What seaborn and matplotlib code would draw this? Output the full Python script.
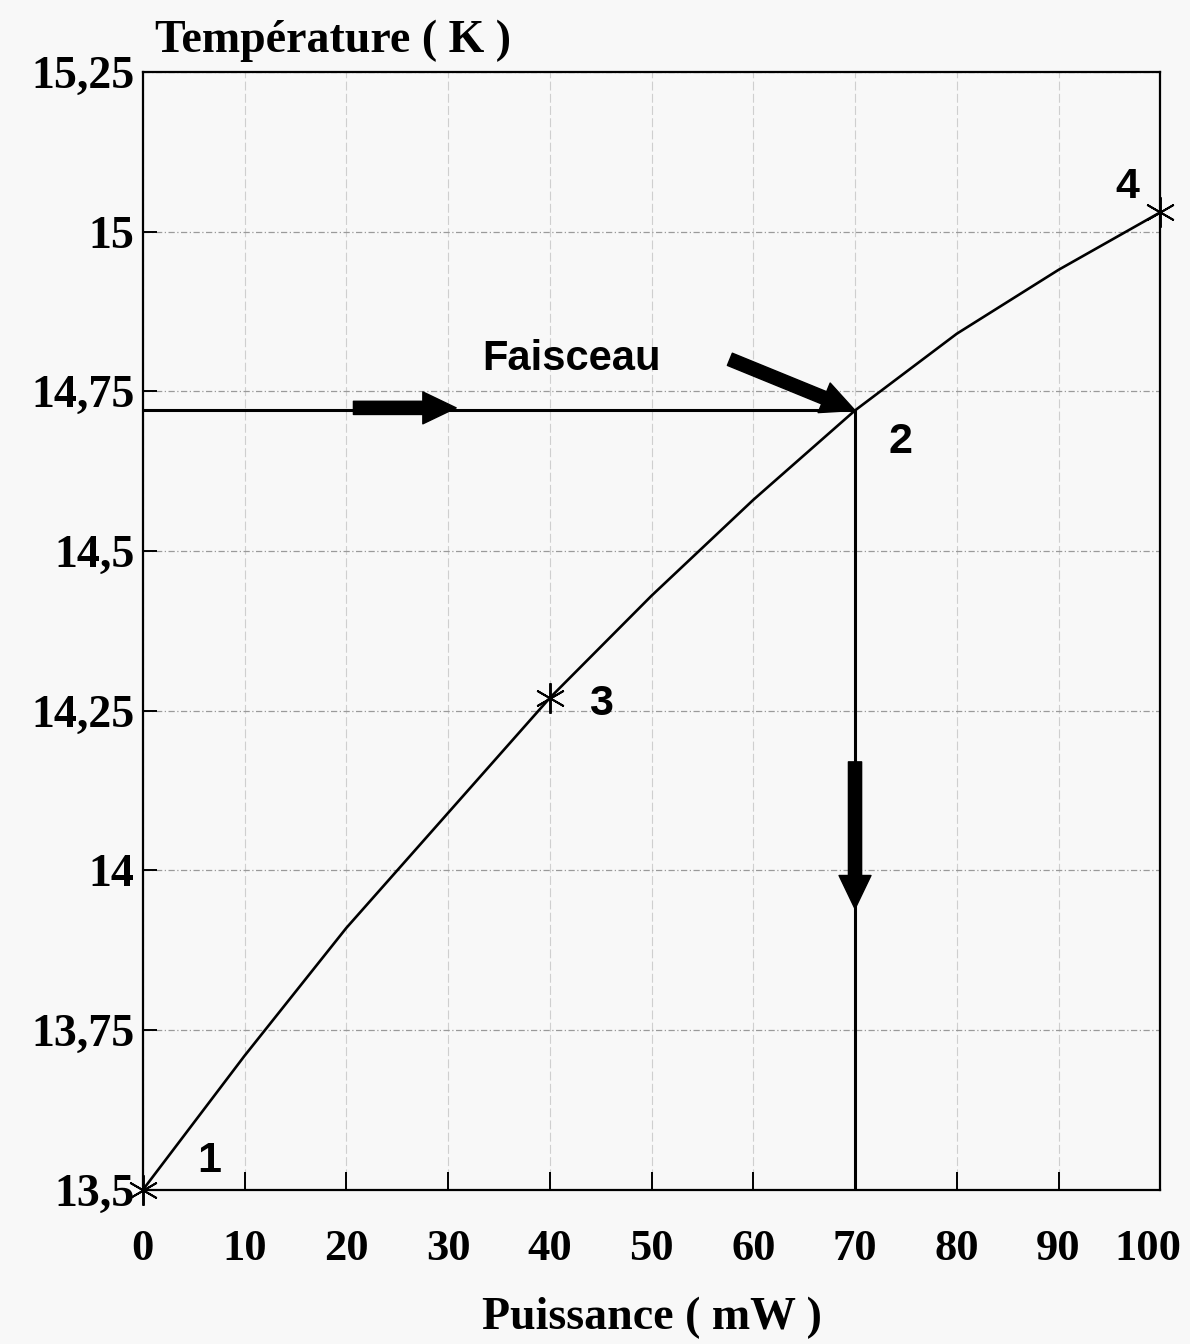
import matplotlib
matplotlib.use("Agg")
import matplotlib.pyplot as plt
import matplotlib.transforms as mtransforms
import seaborn as sns
import pandas as pd

# ---------------------------------------------------
# Data
# ---------------------------------------------------

puissance = [0, 10, 20, 30, 40, 50, 60, 70, 80, 90, 100]
temperature = [13.50, 13.71, 13.91, 14.09, 14.27, 14.43, 14.58, 14.72, 14.84, 14.94, 15.03]

x_ticks = [0, 10, 20, 30, 40, 50, 60, 70, 80, 90, 100]
y_ticks = [13.5, 13.75, 14.0, 14.25, 14.5, 14.75, 15.0, 15.25]
y_tick_labels = ["13,5", "13,75", "14", "14,25", "14,5", "14,75", "15", "15,25"]

# points with an asterisk marker: 1, 3, 4
marked = [0, 4, 10]

# working point 2
p_op = 70
t_op = 14.72

point_labels = ["1", "2", "3", "4"]
point_label_x = [6.5, 74.5, 45.0, 96.8]
point_label_y = [13.545, 14.67, 14.26, 15.07]

df = pd.DataFrame({"puissance": puissance, "temperature": temperature})

# ---------------------------------------------------
# Figure
# ---------------------------------------------------

sns.set_style("white")
plt.rcParams["font.family"] = ["Liberation Serif", "DejaVu Serif"]
plt.rcParams["text.color"] = "black"
plt.rcParams["axes.labelcolor"] = "black"
plt.rcParams["xtick.color"] = "black"
plt.rcParams["ytick.color"] = "black"

fig = plt.figure(figsize=(11.9, 13.44), dpi=100, facecolor="#f8f8f8")
ax = fig.add_axes([0.12, 0.1146, 0.855, 0.832])
ax.set_facecolor("#f8f8f8")

sns.lineplot(
    data=df,
    x="puissance",
    y="temperature",
    color="black",
    linewidth=1.9,
    marker=(6, 2, 0),
    markevery=marked,
    markersize=22,
    markeredgewidth=1.4,
    markeredgecolor="black",
    clip_on=False,
    zorder=5,
    ax=ax
)

# horizontal then vertical guide through point 2
ax.plot([0, p_op], [t_op, t_op], color="black", linewidth=2.2)
ax.plot([p_op, p_op], [t_op, 13.5], color="black", linewidth=2.2)

arrow_style = "simple,head_length=2.4,head_width=2.3,tail_width=0.95"

ax.annotate("", xy=(30.8, t_op + 0.004), xytext=(20.7, t_op + 0.004),
            arrowprops=dict(arrowstyle=arrow_style, color="black",
                            mutation_scale=10, shrinkA=0, shrinkB=0))

ax.annotate("", xy=(p_op, 13.94), xytext=(p_op, 14.17),
            arrowprops=dict(arrowstyle=arrow_style, color="black",
                            mutation_scale=10, shrinkA=0, shrinkB=0))

ax.annotate("", xy=(p_op, t_op), xytext=(57.7, 14.80),
            arrowprops=dict(arrowstyle=arrow_style, color="black",
                            mutation_scale=10, shrinkA=0, shrinkB=0))

ax.text(33.4, 14.80, "Faisceau", fontsize=30, fontweight="bold",
        family="Liberation Sans", ha="left", va="center")

for lab, lx, ly in zip(point_labels, point_label_x, point_label_y):
    ax.text(lx, ly, lab, fontsize=31, fontweight="bold",
            family="Liberation Sans", ha="center", va="center")

# ---------------------------------------------------
# Axes, ticks, grid
# ---------------------------------------------------

ax.set_xlim(0, 100)
ax.set_ylim(13.5, 15.25)

ax.set_xticks(x_ticks)
ax.set_xticklabels([str(v) for v in x_ticks])
ax.set_yticks(y_ticks)
ax.set_yticklabels(y_tick_labels)

ax.tick_params(axis="x", direction="in", length=13, width=1.4,
               pad=28, labelsize=32, bottom=True)
ax.tick_params(axis="y", direction="in", length=10, width=1.4,
               pad=6, labelsize=33, left=True)
for lab in ax.get_xticklabels() + ax.get_yticklabels():
    lab.set_fontweight("bold")

# nudge "100" a little to the left so it stays inside the figure
last = ax.get_xticklabels()[-1]
last.set_transform(last.get_transform() +
                   mtransforms.ScaledTranslation(-12 / 100, 0, fig.dpi_scale_trans))

ax.xaxis.grid(True, color="#cfcfcf", linewidth=0.8, linestyle=(0, (8, 3)))
ax.yaxis.grid(True, color="#9a9a9a", linewidth=0.9, linestyle=(0, (5, 2, 1, 2)))
ax.set_axisbelow(True)

for side in ["left", "bottom", "top", "right"]:
    ax.spines[side].set_visible(True)
    ax.spines[side].set_color("black")
    ax.spines[side].set_linewidth(1.6)

ax.set_xlabel("Puissance ( mW )", fontsize=33, fontweight="bold", labelpad=20)
ax.set_ylabel("Température ( K )", fontsize=33, fontweight="bold",
              rotation=0, ha="left", va="baseline")
ax.yaxis.set_label_coords(0.012, 1.018)

plt.savefig("out.png", dpi=100, facecolor=fig.get_facecolor())
plt.close()
